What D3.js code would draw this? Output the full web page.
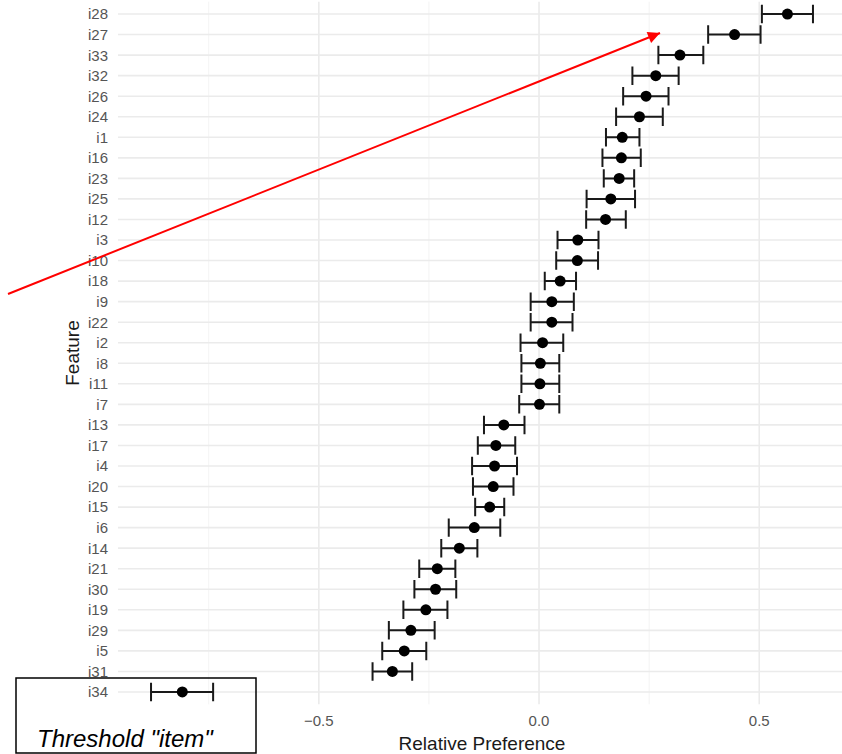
<!DOCTYPE html>
<html>
<head>
<meta charset="utf-8">
<script src="https://cdn.jsdelivr.net/npm/d3@7"></script>
<style>
  body { margin: 0; background: #fff; }
  svg { display: block; font-family: "Liberation Sans", Arial, sans-serif; }
  .tick-label { fill: #555; font-size: 15px; }
  .axis-title { fill: #1a1a1a; font-size: 19px; }
  .grid-major { stroke: #ebebeb; stroke-width: 1.6; }
  .grid-minor { stroke: #f2f2f2; stroke-width: 0.9; }
  .errbar { stroke: #1a1a1a; stroke-width: 2; fill: none; }
</style>
</head>
<body>
<svg id="chart" width="842" height="754"></svg>
<script>
// features, top to bottom
const features = ['i28', 'i27', 'i33', 'i32', 'i26', 'i24', 'i1', 'i16', 'i23', 'i25', 'i12', 'i3',
  'i10', 'i18', 'i9', 'i22', 'i2', 'i8', 'i11', 'i7', 'i13', 'i17', 'i4', 'i20', 'i15', 'i6',
  'i14', 'i21', 'i30', 'i19', 'i29', 'i5', 'i31', 'i34'];
const estimate = [0.564, 0.444, 0.320, 0.265, 0.243, 0.228, 0.189, 0.187, 0.182, 0.163, 0.151, 0.088,
  0.087, 0.048, 0.029, 0.029, 0.008, 0.003, 0.002, 0.001, -0.080, -0.098, -0.101, -0.104, -0.112, -0.147,
  -0.181, -0.231, -0.235, -0.257, -0.291, -0.306, -0.333, -0.810];
const lower = [0.506, 0.384, 0.271, 0.212, 0.191, 0.175, 0.152, 0.144, 0.147, 0.108, 0.107, 0.042,
  0.039, 0.013, -0.019, -0.019, -0.042, -0.040, -0.040, -0.045, -0.125, -0.139, -0.152, -0.150, -0.145, -0.205,
  -0.222, -0.272, -0.283, -0.308, -0.341, -0.356, -0.378, -0.881];
const upper = [0.622, 0.503, 0.373, 0.317, 0.294, 0.281, 0.228, 0.231, 0.216, 0.218, 0.197, 0.135,
  0.134, 0.084, 0.079, 0.076, 0.055, 0.046, 0.046, 0.046, -0.033, -0.054, -0.050, -0.058, -0.079, -0.088,
  -0.140, -0.190, -0.188, -0.208, -0.237, -0.256, -0.288, -0.740];
const majorTicks = [-0.5, 0, 0.5];
const minorTicks = [-0.75, -0.25, 0.25];
const xTitle = 'Relative Preference';
const yTitle = 'Feature';
const note = 'Threshold "item"';

const panel = {left: 118, right: 846, top: 1.7, bottom: 704.3};

const x = d3.scaleLinear().domain([-0.956, 0.697]).range([panel.left, panel.right]);
const y = d3.scalePoint().domain(features).range([panel.top, panel.bottom]).padding(0.6);
const capH = y.step() * 0.45;

const svg = d3.select('#chart');
const data = features.map((f, i) => ({f: f, est: estimate[i], lo: lower[i], hi: upper[i]}));

// grid
const g = svg.append('g');
g.selectAll('.grid-minor')
  .data(minorTicks)
  .enter().append('line')
  .attr('class', 'grid-minor')
  .attr('x1', d => x(d)).attr('x2', d => x(d))
  .attr('y1', panel.top).attr('y2', panel.bottom);
g.selectAll('.grid-major.v')
  .data(majorTicks)
  .enter().append('line')
  .attr('class', 'grid-major v')
  .attr('x1', d => x(d)).attr('x2', d => x(d))
  .attr('y1', panel.top).attr('y2', panel.bottom);
g.selectAll('.grid-major.h')
  .data(features)
  .enter().append('line')
  .attr('class', 'grid-major h')
  .attr('x1', panel.left).attr('x2', panel.right)
  .attr('y1', d => y(d)).attr('y2', d => y(d));

// axes labels
svg.append('g').selectAll('text')
  .data(features)
  .enter().append('text')
  .attr('class', 'tick-label')
  .attr('x', panel.left - 10)
  .attr('y', d => y(d))
  .attr('dy', '0.36em')
  .attr('text-anchor', 'end')
  .text(d => d);

svg.append('g').selectAll('text')
  .data(majorTicks)
  .enter().append('text')
  .attr('class', 'tick-label')
  .attr('x', d => x(d))
  .attr('y', 726)
  .attr('text-anchor', 'middle')
  .text(d => d3.format('.1f')(d));

svg.append('text')
  .attr('class', 'axis-title')
  .attr('x', (panel.left + panel.right) / 2)
  .attr('y', 750)
  .attr('text-anchor', 'middle')
  .text(xTitle);

svg.append('text')
  .attr('class', 'axis-title')
  .attr('transform', `translate(79, ${(panel.top + panel.bottom) / 2}) rotate(-90)`)
  .attr('text-anchor', 'middle')
  .text(yTitle);

// error bars + points
const bars = svg.append('g').selectAll('g')
  .data(data)
  .enter().append('g')
  .attr('transform', d => `translate(0, ${y(d.f)})`);
bars.append('path')
  .attr('class', 'errbar')
  .attr('d', d => `M${x(d.lo)},${-capH}V${capH}M${x(d.lo)},0H${x(d.hi)}M${x(d.hi)},${-capH}V${capH}`);
bars.append('circle')
  .attr('cx', d => x(d.est))
  .attr('r', 5.5)
  .attr('fill', '#000');

// annotation
svg.append('defs').append('marker')
  .attr('id', 'head')
  .attr('viewBox', '0 0 10 10')
  .attr('refX', 10).attr('refY', 5)
  .attr('markerWidth', 7).attr('markerHeight', 6)
  .attr('markerUnits', 'strokeWidth')
  .attr('orient', 'auto')
  .append('path')
  .attr('d', 'M0,0L10,5L0,10Z')
  .attr('fill', '#ff0000');

svg.append('line')
  .attr('x1', 8).attr('y1', 294)
  .attr('x2', 660).attr('y2', 33)
  .attr('stroke', '#ff0000')
  .attr('stroke-width', 2)
  .attr('marker-end', 'url(#head)');

svg.append('rect')
  .attr('x', 16).attr('y', 678)
  .attr('width', 240).attr('height', 75)
  .attr('fill', 'none')
  .attr('stroke', '#000')
  .attr('stroke-width', 1.5);

svg.append('text')
  .attr('x', 37).attr('y', 747)
  .attr('font-size', 24)
  .attr('font-style', 'italic')
  .attr('fill', '#000')
  .text(note);
</script>
</body>
</html>
